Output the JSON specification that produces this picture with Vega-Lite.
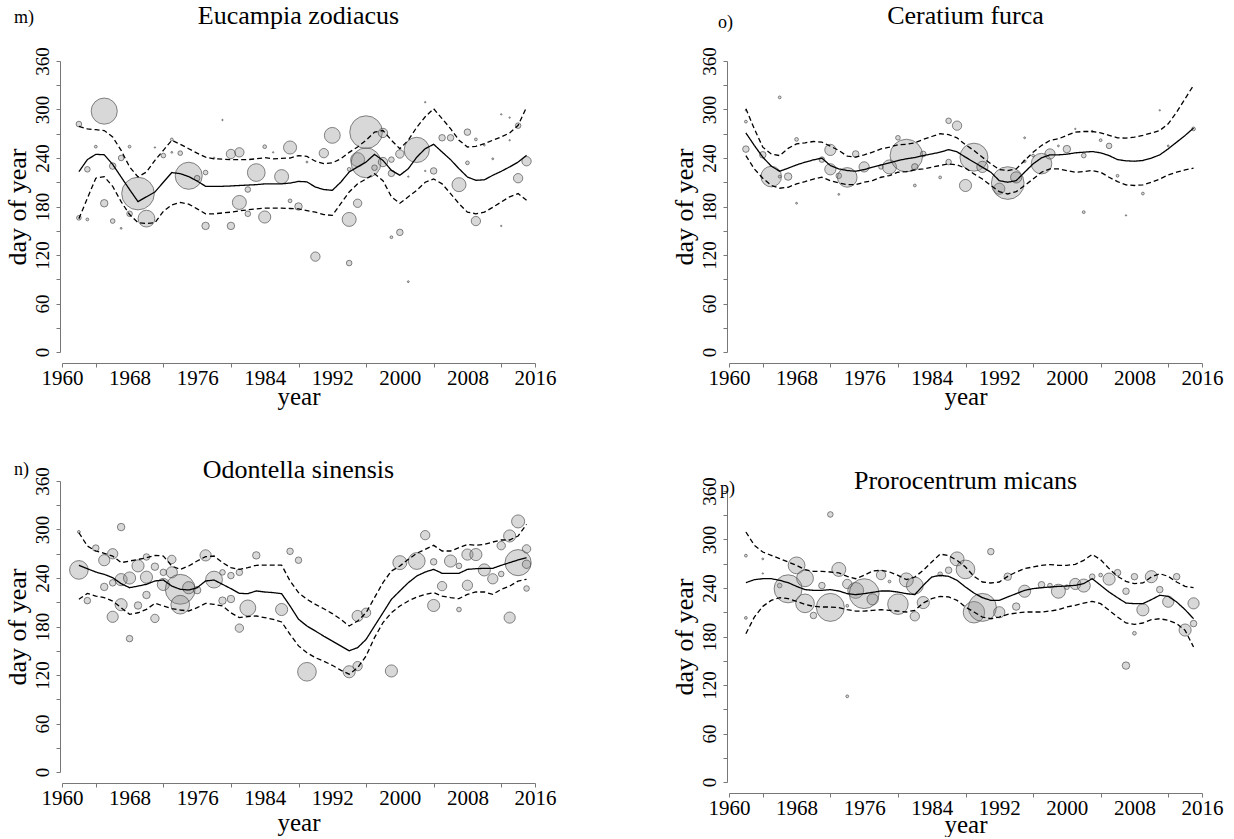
{
  "$schema": "https://vega.github.io/schema/vega-lite/v6.json",
  "background": "white",
  "padding": {"left": 4, "top": 2, "right": 5, "bottom": 0},
  "config": {
    "font": "Liberation Serif",
    "view": {"stroke": null},
    "title": {"font": "Liberation Serif", "fontSize": 26, "fontWeight": "normal", "color": "black", "anchor": "middle", "frame": "group"},
    "axis": {"grid": false, "domainColor": "#777", "tickColor": "#777", "labelColor": "black", "titleColor": "black", "labelFont": "Liberation Serif", "titleFont": "Liberation Serif", "titleFontWeight": "normal"},
    "axisX": {"offset": 11, "labelFont": "Liberation Serif", "titleFont": "Liberation Serif", "labelFontSize": 21, "titleFontSize": 25, "tickSize": 4, "labelPadding": 0, "titlePadding": -4, "labelFlush": false, "labelOverlap": false},
    "axisY": {"offset": 2, "labelFont": "Liberation Serif", "titleFont": "Liberation Serif", "labelFontSize": 19, "titleFontSize": 26, "tickSize": 4, "labelPadding": 4, "titlePadding": 3, "labelAngle": -90, "labelOverlap": false}
  },
  "datasets": {
    "pts_m": [
      {"year":1962,"day":282,"n":6},{"year":1962,"day":166,"n":5},{"year":1963,"day":226,"n":6},{"year":1963,"day":164,"n":3},{"year":1964,"day":254,"n":3},{"year":1965,"day":298,"n":28},{"year":1965,"day":184,"n":8},{"year":1966,"day":230,"n":7},{"year":1966,"day":162,"n":5},{"year":1967,"day":240,"n":6},{"year":1967,"day":153,"n":2},{"year":1968,"day":254,"n":3},{"year":1968,"day":171,"n":6},{"year":1969,"day":196,"n":35},{"year":1970,"day":165,"n":18},{"year":1971,"day":253,"n":1.5},{"year":1972,"day":243,"n":5},{"year":1973,"day":263,"n":3},{"year":1973,"day":247,"n":2},{"year":1974,"day":246,"n":5},{"year":1975,"day":218,"n":29},{"year":1976,"day":215,"n":6},{"year":1977,"day":222,"n":5},{"year":1977,"day":156,"n":8},{"year":1978,"day":240,"n":2},{"year":1979,"day":287,"n":1.5},{"year":1980,"day":245,"n":10},{"year":1980,"day":156,"n":8},{"year":1981,"day":247,"n":10},{"year":1981,"day":185,"n":15},{"year":1982,"day":201,"n":6},{"year":1982,"day":171,"n":6},{"year":1983,"day":222,"n":19},{"year":1984,"day":254,"n":4},{"year":1984,"day":167,"n":13},{"year":1985,"day":247,"n":1.5},{"year":1986,"day":217,"n":15},{"year":1987,"day":253,"n":14},{"year":1987,"day":187,"n":4},{"year":1988,"day":180,"n":8},{"year":1989,"day":235,"n":2},{"year":1990,"day":118,"n":10},{"year":1991,"day":246,"n":10},{"year":1992,"day":268,"n":17},{"year":1994,"day":110,"n":6},{"year":1994,"day":164,"n":15},{"year":1994,"day":226,"n":4},{"year":1995,"day":184,"n":9},{"year":1995,"day":238,"n":15},{"year":1996,"day":272,"n":35},{"year":1996,"day":234,"n":32},{"year":1997,"day":228,"n":6},{"year":1998,"day":271,"n":10},{"year":1998,"day":235,"n":10},{"year":1999,"day":238,"n":6},{"year":1999,"day":221,"n":7},{"year":1999,"day":142,"n":3},{"year":2000,"day":245,"n":9},{"year":2000,"day":148,"n":7},{"year":2001,"day":87,"n":2},{"year":2001,"day":217,"n":1.5},{"year":2002,"day":250,"n":27},{"year":2003,"day":309,"n":1.5},{"year":2003,"day":224,"n":1.5},{"year":2004,"day":224,"n":7},{"year":2005,"day":265,"n":7},{"year":2006,"day":265,"n":7},{"year":2007,"day":207,"n":15},{"year":2008,"day":272,"n":7},{"year":2008,"day":234,"n":4},{"year":2009,"day":263,"n":3},{"year":2009,"day":162,"n":10},{"year":2010,"day":256,"n":2},{"year":2011,"day":239,"n":2},{"year":2012,"day":294,"n":1.5},{"year":2012,"day":156,"n":1.5},{"year":2013,"day":290,"n":1.5},{"year":2013,"day":262,"n":1.5},{"year":2014,"day":280,"n":6},{"year":2014,"day":215,"n":10},{"year":2015,"day":236,"n":10}
    ],
    "fit_m": [
      {"year":1962,"fit":223,"lo":165,"hi":279},{"year":1963,"fit":238,"lo":190,"hi":276},{"year":1964,"fit":244.5,"lo":215,"hi":275},{"year":1965,"fit":244,"lo":217,"hi":274},{"year":1966,"fit":232,"lo":205,"hi":266},{"year":1967,"fit":216.5,"lo":186,"hi":249.5},{"year":1968,"fit":201,"lo":170,"hi":229},{"year":1969,"fit":186,"lo":160,"hi":216.5},{"year":1970,"fit":192,"lo":159,"hi":222.7},{"year":1971,"fit":198,"lo":160,"hi":237},{"year":1972,"fit":210,"lo":174,"hi":249.5},{"year":1973,"fit":222,"lo":182,"hi":262},{"year":1974,"fit":220.6,"lo":185,"hi":257},{"year":1975,"fit":217,"lo":183,"hi":251.5},{"year":1976,"fit":211.5,"lo":177,"hi":246},{"year":1977,"fit":205,"lo":171,"hi":241},{"year":1978,"fit":205,"lo":171,"hi":239},{"year":1979,"fit":205,"lo":172,"hi":238.5},{"year":1980,"fit":205.4,"lo":173,"hi":238},{"year":1981,"fit":206,"lo":174.5,"hi":238},{"year":1982,"fit":206.5,"lo":176,"hi":238},{"year":1983,"fit":207,"lo":177,"hi":239},{"year":1984,"fit":208,"lo":178,"hi":240.4},{"year":1985,"fit":208,"lo":178,"hi":239},{"year":1986,"fit":208,"lo":178,"hi":239.5},{"year":1987,"fit":209,"lo":177.5,"hi":240},{"year":1988,"fit":211,"lo":177,"hi":243},{"year":1989,"fit":210.5,"lo":175,"hi":242},{"year":1990,"fit":204,"lo":173,"hi":236},{"year":1991,"fit":201,"lo":170,"hi":233},{"year":1992,"fit":200,"lo":169,"hi":234},{"year":1993,"fit":210,"lo":183.5,"hi":239},{"year":1994,"fit":222.7,"lo":198,"hi":247},{"year":1995,"fit":229,"lo":208,"hi":253.6},{"year":1996,"fit":235,"lo":214,"hi":262},{"year":1997,"fit":244.5,"lo":220.6,"hi":272},{"year":1998,"fit":237,"lo":212,"hi":274},{"year":1999,"fit":224.7,"lo":192,"hi":262},{"year":2000,"fit":218.6,"lo":184,"hi":251.5},{"year":2001,"fit":226.8,"lo":192,"hi":262},{"year":2002,"fit":241,"lo":200,"hi":278},{"year":2003,"fit":251.5,"lo":210,"hi":291},{"year":2004,"fit":257,"lo":214,"hi":301},{"year":2005,"fit":247.4,"lo":208,"hi":288.7},{"year":2006,"fit":238,"lo":196,"hi":276.3},{"year":2007,"fit":226.8,"lo":183.5,"hi":262},{"year":2008,"fit":216.5,"lo":173,"hi":253.6},{"year":2009,"fit":212.4,"lo":171,"hi":254.4},{"year":2010,"fit":213,"lo":173,"hi":257.7},{"year":2011,"fit":218.6,"lo":179,"hi":262},{"year":2012,"fit":223.5,"lo":185.6,"hi":266},{"year":2013,"fit":229,"lo":192,"hi":271},{"year":2014,"fit":235,"lo":196,"hi":280.4},{"year":2015,"fit":243.3,"lo":187.6,"hi":303}
    ],
    "pts_o": [
      {"year":1962,"day":251,"n":7},{"year":1962,"day":285,"n":3},{"year":1962,"day":299,"n":1.5},{"year":1964,"day":244,"n":7},{"year":1965,"day":217,"n":22},{"year":1966,"day":315,"n":3},{"year":1966,"day":217,"n":3},{"year":1967,"day":217,"n":8},{"year":1968,"day":263,"n":4},{"year":1968,"day":184,"n":2},{"year":1971,"day":238,"n":6},{"year":1972,"day":250,"n":12},{"year":1972,"day":226,"n":12},{"year":1973,"day":218,"n":6},{"year":1973,"day":195,"n":2},{"year":1974,"day":216,"n":21},{"year":1975,"day":245,"n":7},{"year":1976,"day":229,"n":11},{"year":1978,"day":229,"n":5},{"year":1979,"day":229,"n":15},{"year":1980,"day":265,"n":5},{"year":1981,"day":243,"n":35},{"year":1982,"day":229,"n":7},{"year":1982,"day":206,"n":3},{"year":1983,"day":245,"n":6},{"year":1985,"day":216,"n":3},{"year":1986,"day":286,"n":6},{"year":1986,"day":235,"n":6},{"year":1987,"day":280,"n":10},{"year":1988,"day":206,"n":13},{"year":1989,"day":241,"n":30},{"year":1990,"day":229,"n":12},{"year":1992,"day":202,"n":12},{"year":1993,"day":209,"n":35},{"year":1994,"day":216,"n":12},{"year":1995,"day":265,"n":2},{"year":1995,"day":236,"n":3},{"year":1996,"day":243,"n":3},{"year":1997,"day":233,"n":22},{"year":1998,"day":245,"n":11},{"year":1999,"day":255,"n":2},{"year":2000,"day":251,"n":8},{"year":2001,"day":276,"n":1.5},{"year":2002,"day":243,"n":5},{"year":2002,"day":173,"n":3},{"year":2003,"day":273,"n":2},{"year":2004,"day":262,"n":3},{"year":2005,"day":255,"n":6},{"year":2006,"day":218,"n":3},{"year":2007,"day":169,"n":1.5},{"year":2009,"day":196,"n":3},{"year":2011,"day":299,"n":1.5},{"year":2012,"day":255,"n":2},{"year":2015,"day":276,"n":4}
    ],
    "fit_o": [
      {"year":1962,"fit":271,"lo":243,"hi":301},{"year":1963,"fit":255.5,"lo":226.5,"hi":276},{"year":1964,"fit":241,"lo":215,"hi":253.4},{"year":1965,"fit":230,"lo":206,"hi":245},{"year":1966,"fit":223.6,"lo":202.6,"hi":243},{"year":1967,"fit":227.4,"lo":203.8,"hi":252},{"year":1968,"fit":231.5,"lo":208,"hi":257.5},{"year":1969,"fit":234.8,"lo":210.8,"hi":258.8},{"year":1970,"fit":237.7,"lo":214,"hi":260.4},{"year":1971,"fit":239.8,"lo":216.2,"hi":259.6},{"year":1972,"fit":230.7,"lo":212,"hi":254.6},{"year":1973,"fit":226.5,"lo":209.2,"hi":249.3},{"year":1974,"fit":224.5,"lo":207,"hi":242.3},{"year":1975,"fit":223.6,"lo":207,"hi":241},{"year":1976,"fit":225.7,"lo":210,"hi":243.9},{"year":1977,"fit":228.6,"lo":212,"hi":247.2},{"year":1978,"fit":231.5,"lo":216.2,"hi":251.3},{"year":1979,"fit":234,"lo":218.3,"hi":253.4},{"year":1980,"fit":236.9,"lo":222.4,"hi":256.3},{"year":1981,"fit":239,"lo":223.2,"hi":257},{"year":1982,"fit":240.6,"lo":225.3,"hi":258.8},{"year":1983,"fit":243,"lo":226.5,"hi":263},{"year":1984,"fit":245,"lo":228.6,"hi":266.6},{"year":1985,"fit":247.2,"lo":230.7,"hi":270},{"year":1986,"fit":250.3,"lo":232.7,"hi":269},{"year":1987,"fit":247.6,"lo":231.5,"hi":265},{"year":1988,"fit":241,"lo":227.4,"hi":256.3},{"year":1989,"fit":234.8,"lo":220.3,"hi":249.3},{"year":1990,"fit":228.6,"lo":214,"hi":241},{"year":1991,"fit":222.4,"lo":206,"hi":232.7},{"year":1992,"fit":212,"lo":198.4,"hi":225.7},{"year":1993,"fit":210,"lo":195.5,"hi":224.5},{"year":1994,"fit":212,"lo":198.4,"hi":226.5},{"year":1995,"fit":222.4,"lo":206,"hi":236.9},{"year":1996,"fit":232.7,"lo":214,"hi":247.2},{"year":1997,"fit":240.2,"lo":222.4,"hi":255.5},{"year":1998,"fit":243.9,"lo":226.5,"hi":261.7},{"year":1999,"fit":243.9,"lo":226.5,"hi":263.7},{"year":2000,"fit":244.7,"lo":224.5,"hi":268},{"year":2001,"fit":246.4,"lo":222.4,"hi":272},{"year":2002,"fit":247.2,"lo":223.2,"hi":272.8},{"year":2003,"fit":248,"lo":224.5,"hi":272.8},{"year":2004,"fit":246.4,"lo":222.4,"hi":271.2},{"year":2005,"fit":243,"lo":216.2,"hi":268},{"year":2006,"fit":238,"lo":210.8,"hi":265},{"year":2007,"fit":236.5,"lo":206.7,"hi":264.6},{"year":2008,"fit":236,"lo":206,"hi":265.8},{"year":2009,"fit":236.9,"lo":206.7,"hi":268},{"year":2010,"fit":239.8,"lo":210,"hi":270.8},{"year":2011,"fit":243.9,"lo":214,"hi":274},{"year":2012,"fit":251.3,"lo":219,"hi":282.3},{"year":2013,"fit":259.6,"lo":222.4,"hi":296.8},{"year":2014,"fit":267.9,"lo":225.3,"hi":313.4},{"year":2015,"fit":277,"lo":227.4,"hi":330}
    ],
    "pts_n": [
      {"year":1962,"day":297,"n":3},{"year":1962,"day":250,"n":20},{"year":1963,"day":212,"n":7},{"year":1964,"day":277,"n":7},{"year":1965,"day":262,"n":12},{"year":1965,"day":229,"n":8},{"year":1966,"day":270,"n":11},{"year":1966,"day":234,"n":7},{"year":1966,"day":192,"n":12},{"year":1967,"day":303,"n":8},{"year":1967,"day":238,"n":13},{"year":1967,"day":207,"n":13},{"year":1968,"day":240,"n":13},{"year":1968,"day":165,"n":7},{"year":1969,"day":255,"n":13},{"year":1969,"day":206,"n":8},{"year":1970,"day":266,"n":7},{"year":1970,"day":241,"n":13},{"year":1970,"day":219,"n":8},{"year":1971,"day":254,"n":8},{"year":1971,"day":190,"n":9},{"year":1972,"day":247,"n":7},{"year":1972,"day":232,"n":13},{"year":1973,"day":263,"n":9},{"year":1973,"day":247,"n":12},{"year":1974,"day":226,"n":32},{"year":1974,"day":207,"n":20},{"year":1975,"day":228,"n":13},{"year":1976,"day":225,"n":8},{"year":1977,"day":268,"n":12},{"year":1978,"day":238,"n":18},{"year":1979,"day":247,"n":6},{"year":1979,"day":212,"n":8},{"year":1980,"day":243,"n":7},{"year":1980,"day":214,"n":8},{"year":1981,"day":247,"n":7},{"year":1981,"day":178,"n":9},{"year":1982,"day":203,"n":17},{"year":1983,"day":268,"n":8},{"year":1986,"day":201,"n":13},{"year":1987,"day":273,"n":7},{"year":1988,"day":262,"n":7},{"year":1989,"day":124,"n":20},{"year":1994,"day":124,"n":13},{"year":1995,"day":131,"n":10},{"year":1995,"day":193,"n":12},{"year":1996,"day":197,"n":10},{"year":1999,"day":125,"n":13},{"year":2000,"day":259,"n":15},{"year":2002,"day":261,"n":18},{"year":2003,"day":293,"n":10},{"year":2004,"day":260,"n":7},{"year":2004,"day":206,"n":13},{"year":2005,"day":230,"n":10},{"year":2006,"day":261,"n":13},{"year":2007,"day":255,"n":6},{"year":2007,"day":201,"n":5},{"year":2008,"day":269,"n":12},{"year":2008,"day":231,"n":11},{"year":2009,"day":269,"n":13},{"year":2010,"day":250,"n":13},{"year":2011,"day":239,"n":11},{"year":2012,"day":280,"n":9},{"year":2012,"day":245,"n":6},{"year":2013,"day":292,"n":13},{"year":2013,"day":191,"n":12},{"year":2014,"day":310,"n":14},{"year":2014,"day":259,"n":28},{"year":2015,"day":276,"n":9},{"year":2015,"day":257,"n":9},{"year":2015,"day":227,"n":6}
    ],
    "fit_n": [
      {"year":1962,"fit":255.7,"lo":213.6,"hi":296},{"year":1963,"fit":251.5,"lo":221,"hi":279.6},{"year":1964,"fit":247.4,"lo":217.7,"hi":273.4},{"year":1965,"fit":244.5,"lo":215.7,"hi":270.5},{"year":1966,"fit":240.4,"lo":211.5,"hi":267.2},{"year":1967,"fit":233,"lo":203.3,"hi":259},{"year":1968,"fit":228,"lo":195,"hi":261},{"year":1969,"fit":230,"lo":197,"hi":263},{"year":1970,"fit":232.2,"lo":201.2,"hi":265},{"year":1971,"fit":236.3,"lo":208.7,"hi":268},{"year":1972,"fit":237.5,"lo":205.4,"hi":267.2},{"year":1973,"fit":230,"lo":202,"hi":254.8},{"year":1974,"fit":226,"lo":200.4,"hi":250.7},{"year":1975,"fit":225.2,"lo":199.2,"hi":254.8},{"year":1976,"fit":228,"lo":203.3,"hi":261},{"year":1977,"fit":236.3,"lo":208.7,"hi":266.4},{"year":1978,"fit":237.5,"lo":207.4,"hi":267.2},{"year":1979,"fit":232.2,"lo":205.4,"hi":259},{"year":1980,"fit":226.8,"lo":197,"hi":252.8},{"year":1981,"fit":221,"lo":191,"hi":250.7},{"year":1982,"fit":220.6,"lo":192.2,"hi":252.8},{"year":1983,"fit":224,"lo":193,"hi":255.7},{"year":1984,"fit":222.7,"lo":191,"hi":256},{"year":1985,"fit":221.9,"lo":188.9,"hi":256},{"year":1986,"fit":220.6,"lo":185.6,"hi":256},{"year":1987,"fit":205.4,"lo":170.3,"hi":236.3},{"year":1988,"fit":189,"lo":156,"hi":221.9},{"year":1989,"fit":180.6,"lo":147.6,"hi":213.6},{"year":1990,"fit":174.4,"lo":141.4,"hi":207.4},{"year":1991,"fit":168,"lo":137,"hi":202},{"year":1992,"fit":162,"lo":132,"hi":196},{"year":1993,"fit":156,"lo":126,"hi":189},{"year":1994,"fit":150,"lo":121,"hi":180.6},{"year":1995,"fit":153.8,"lo":129,"hi":186.8},{"year":1996,"fit":164,"lo":143.5,"hi":197},{"year":1997,"fit":180.6,"lo":166.2,"hi":215.7},{"year":1998,"fit":197,"lo":184.7,"hi":234.2},{"year":1999,"fit":213.6,"lo":197,"hi":248.7},{"year":2000,"fit":224,"lo":205.4,"hi":254.8},{"year":2001,"fit":234.2,"lo":211.5,"hi":263.1},{"year":2002,"fit":242.5,"lo":216.5,"hi":270.5},{"year":2003,"fit":247.4,"lo":219.8,"hi":275.5},{"year":2004,"fit":250.7,"lo":221.9,"hi":280.4},{"year":2005,"fit":245.8,"lo":217.7,"hi":273.4},{"year":2006,"fit":245.8,"lo":215.7,"hi":273.4},{"year":2007,"fit":245.8,"lo":214.4,"hi":277.5},{"year":2008,"fit":250.7,"lo":219.8,"hi":281.6},{"year":2009,"fit":251.5,"lo":222.7,"hi":280.4},{"year":2010,"fit":252,"lo":222.7,"hi":281.6},{"year":2011,"fit":252,"lo":219.8,"hi":284.5},{"year":2012,"fit":255.7,"lo":226,"hi":287},{"year":2013,"fit":259,"lo":230,"hi":287},{"year":2014,"fit":262.3,"lo":236.3,"hi":292},{"year":2015,"fit":265.2,"lo":238.4,"hi":306.4}
    ],
    "pts_p": [
      {"year":1962,"day":280,"n":3},{"year":1962,"day":203,"n":3},{"year":1964,"day":276,"n":2},{"year":1964,"day":258,"n":1.5},{"year":1966,"day":243,"n":5},{"year":1967,"day":239,"n":30},{"year":1968,"day":268,"n":18},{"year":1969,"day":252,"n":18},{"year":1969,"day":221,"n":20},{"year":1970,"day":206,"n":7},{"year":1971,"day":243,"n":7},{"year":1972,"day":331,"n":6},{"year":1972,"day":216,"n":30},{"year":1973,"day":263,"n":15},{"year":1974,"day":245,"n":10},{"year":1974,"day":106,"n":3},{"year":1974,"day":218,"n":3},{"year":1975,"day":237,"n":17},{"year":1976,"day":233,"n":32},{"year":1977,"day":226,"n":12},{"year":1978,"day":256,"n":10},{"year":1979,"day":248,"n":3},{"year":1980,"day":220,"n":22},{"year":1981,"day":250,"n":15},{"year":1982,"day":205,"n":10},{"year":1982,"day":243,"n":18},{"year":1983,"day":222,"n":13},{"year":1985,"day":257,"n":5},{"year":1986,"day":262,"n":7},{"year":1987,"day":276,"n":15},{"year":1988,"day":263,"n":20},{"year":1989,"day":210,"n":23},{"year":1990,"day":216,"n":30},{"year":1991,"day":285,"n":7},{"year":1992,"day":210,"n":12},{"year":1993,"day":254,"n":8},{"year":1994,"day":217,"n":8},{"year":1995,"day":236,"n":13},{"year":1997,"day":244,"n":7},{"year":1998,"day":243,"n":5},{"year":1999,"day":236,"n":15},{"year":2000,"day":241,"n":5},{"year":2001,"day":245,"n":12},{"year":2002,"day":243,"n":14},{"year":2003,"day":254,"n":6},{"year":2004,"day":256,"n":4},{"year":2005,"day":251,"n":13},{"year":2006,"day":259,"n":7},{"year":2007,"day":236,"n":7},{"year":2007,"day":144,"n":8},{"year":2008,"day":184,"n":4},{"year":2008,"day":254,"n":7},{"year":2009,"day":213,"n":13},{"year":2010,"day":254,"n":13},{"year":2011,"day":238,"n":7},{"year":2012,"day":223,"n":12},{"year":2013,"day":254,"n":7},{"year":2014,"day":188,"n":13},{"year":2015,"day":221,"n":12},{"year":2015,"day":196,"n":7}
    ],
    "fit_p": [
      {"year":1962,"fit":246.6,"lo":183.5,"hi":309.3},{"year":1963,"fit":250.3,"lo":204,"hi":292.8},{"year":1964,"fit":251.5,"lo":217.3,"hi":284.5},{"year":1965,"fit":251.5,"lo":224.7,"hi":280.4},{"year":1966,"fit":249.5,"lo":228,"hi":276.3},{"year":1967,"fit":246.6,"lo":226.8,"hi":272.2},{"year":1968,"fit":242,"lo":223.5,"hi":268},{"year":1969,"fit":238,"lo":219.8,"hi":262.7},{"year":1970,"fit":237.1,"lo":217.3,"hi":260.6},{"year":1971,"fit":237.1,"lo":216.5,"hi":260.6},{"year":1972,"fit":238,"lo":216.5,"hi":259.8},{"year":1973,"fit":236.3,"lo":215.7,"hi":258.6},{"year":1974,"fit":233,"lo":213.2,"hi":254.4},{"year":1975,"fit":231.8,"lo":211.5,"hi":251.5},{"year":1976,"fit":233,"lo":211.5,"hi":255.7},{"year":1977,"fit":234.6,"lo":212.4,"hi":261},{"year":1978,"fit":236.3,"lo":213.2,"hi":261.9},{"year":1979,"fit":236.3,"lo":212.4,"hi":259.8},{"year":1980,"fit":235,"lo":211.5,"hi":255.7},{"year":1981,"fit":233,"lo":210.3,"hi":250.3},{"year":1982,"fit":231.8,"lo":212.4,"hi":253.6},{"year":1983,"fit":243.3,"lo":221.4,"hi":261.9},{"year":1984,"fit":253.6,"lo":226.8,"hi":272.2},{"year":1985,"fit":255.7,"lo":229.7,"hi":282},{"year":1986,"fit":254.4,"lo":229,"hi":280},{"year":1987,"fit":249.5,"lo":224.7,"hi":274.2},{"year":1988,"fit":241.2,"lo":216.5,"hi":266},{"year":1989,"fit":233.8,"lo":210.3,"hi":254.4},{"year":1990,"fit":228,"lo":204.1,"hi":247.4},{"year":1991,"fit":224.7,"lo":202,"hi":246.2},{"year":1992,"fit":224.7,"lo":204.1,"hi":247.4},{"year":1993,"fit":228.9,"lo":207.4,"hi":254.4},{"year":1994,"fit":233,"lo":209,"hi":259.8},{"year":1995,"fit":237.1,"lo":210.3,"hi":264},{"year":1996,"fit":239.2,"lo":210.3,"hi":266},{"year":1997,"fit":240.4,"lo":210.3,"hi":268},{"year":1998,"fit":241.2,"lo":211.5,"hi":269},{"year":1999,"fit":242,"lo":213.2,"hi":268},{"year":2000,"fit":242.5,"lo":216.5,"hi":268},{"year":2001,"fit":243.3,"lo":218.6,"hi":269.3},{"year":2002,"fit":245.4,"lo":221.4,"hi":274.2},{"year":2003,"fit":251.5,"lo":223.5,"hi":281.6},{"year":2004,"fit":243.3,"lo":220.6,"hi":275},{"year":2005,"fit":235,"lo":212.4,"hi":264},{"year":2006,"fit":228,"lo":204.1,"hi":254.4},{"year":2007,"fit":221.4,"lo":196.7,"hi":248.2},{"year":2008,"fit":220.6,"lo":195,"hi":245.4},{"year":2009,"fit":220.6,"lo":196.7,"hi":246.2},{"year":2010,"fit":225.6,"lo":200.8,"hi":253.6},{"year":2011,"fit":231,"lo":202,"hi":257.7},{"year":2012,"fit":229.7,"lo":200,"hi":254.4},{"year":2013,"fit":222.7,"lo":195.9,"hi":247.4},{"year":2014,"fit":213.2,"lo":187.6,"hi":242},{"year":2015,"fit":202,"lo":167,"hi":240.4}
    ]
  },
  "spacing": 115,
  "hconcat": [
    {
      "spacing": 47,
      "vconcat": [
        {
          "title": {"text": "m)", "anchor": "start", "frame": "bounds", "offset": -24, "fontSize": 18, "dx": 10},
          "vconcat": [{
            "title": {"text": "Eucampia zodiacus", "offset": 18},
            "width": 473, "height": 291,
            "encoding": {
              "x": {"field": "year", "type": "quantitative", "scale": {"domain": [1960, 2016], "nice": false, "zero": false},
                    "axis": {"title": "year", "values": [1960,1964,1968,1972,1976,1980,1984,1988,1992,1996,2000,2004,2008,2012,2016], "labelExpr": "(datum.value - 1960) % 8 == 0 ? '' + datum.value : ''", "tickOpacity": {"condition": {"test": "datum.value == 1960 || datum.value == 2016 || (datum.value - 1960) % 8 == 4", "value": 1}, "value": 0}}},
              "y": {"field": "day", "type": "quantitative", "scale": {"domain": [0, 360], "nice": false},
                    "axis": {"title": "day of year", "values": [0,30,60,90,120,150,180,210,240,270,300,330,360], "labelExpr": "datum.value % 60 == 0 ? '' + datum.value : ''"}}
            },
            "layer": [
              {"data": {"name": "pts_m"}, "mark": {"type": "circle", "fill": "#888", "fillOpacity": 0.33, "stroke": "#444", "strokeWidth": 0.8, "strokeOpacity": 0.8},
               "encoding": {"size": {"field": "n", "type": "quantitative", "scale": {"type": "pow", "exponent": 2, "domain": [0, 36], "range": [0, 1130]}, "legend": null}}},
              {"data": {"name": "fit_m"}, "transform": [{"fold": ["fit", "lo", "hi"], "as": ["band", "day"]}],
               "mark": {"type": "line", "color": "black", "strokeWidth": 1.3},
               "encoding": {"detail": {"field": "band"}, "strokeDash": {"field": "band", "type": "nominal", "scale": {"domain": ["fit", "lo", "hi"], "range": [[1, 0], [5, 3], [5, 3]]}, "legend": null}}}
            ]
          }]
        },
        {
          "title": {"text": "n)", "anchor": "start", "frame": "bounds", "offset": -22, "fontSize": 18, "dx": 10},
          "vconcat": [{
            "title": {"text": "Odontella sinensis", "offset": -16},
            "width": 473, "height": 291,
            "encoding": {
              "x": {"field": "year", "type": "quantitative", "scale": {"domain": [1960, 2016], "nice": false, "zero": false},
                    "axis": {"title": "year", "titlePadding": 2, "values": [1960,1964,1968,1972,1976,1980,1984,1988,1992,1996,2000,2004,2008,2012,2016], "labelExpr": "(datum.value - 1960) % 8 == 0 ? '' + datum.value : ''", "tickOpacity": {"condition": {"test": "datum.value == 1960 || datum.value == 2016 || (datum.value - 1960) % 8 == 4", "value": 1}, "value": 0}}},
              "y": {"field": "day", "type": "quantitative", "scale": {"domain": [0, 360], "nice": false},
                    "axis": {"title": "day of year", "values": [0,30,60,90,120,150,180,210,240,270,300,330,360], "labelExpr": "datum.value % 60 == 0 ? '' + datum.value : ''"}}
            },
            "layer": [
              {"data": {"name": "pts_n"}, "mark": {"type": "circle", "fill": "#888", "fillOpacity": 0.33, "stroke": "#444", "strokeWidth": 0.8, "strokeOpacity": 0.8},
               "encoding": {"size": {"field": "n", "type": "quantitative", "scale": {"type": "pow", "exponent": 2, "domain": [0, 36], "range": [0, 1130]}, "legend": null}}},
              {"data": {"name": "fit_n"}, "transform": [{"fold": ["fit", "lo", "hi"], "as": ["band", "day"]}],
               "mark": {"type": "line", "color": "black", "strokeWidth": 1.3},
               "encoding": {"detail": {"field": "band"}, "strokeDash": {"field": "band", "type": "nominal", "scale": {"domain": ["fit", "lo", "hi"], "range": [[1, 0], [5, 3], [5, 3]]}, "legend": null}}}
            ]
          }]
        }
      ]
    },
    {
      "spacing": 58,
      "vconcat": [
        {
          "title": {"text": "o)", "anchor": "start", "frame": "bounds", "offset": -29, "fontSize": 18, "dx": 47},
          "vconcat": [{
            "title": {"text": "Ceratium furca", "offset": 18},
            "width": 473, "height": 291,
            "encoding": {
              "x": {"field": "year", "type": "quantitative", "scale": {"domain": [1960, 2016], "nice": false, "zero": false},
                    "axis": {"title": "year", "values": [1960,1964,1968,1972,1976,1980,1984,1988,1992,1996,2000,2004,2008,2012,2016], "labelExpr": "(datum.value - 1960) % 8 == 0 ? '' + datum.value : ''", "tickOpacity": {"condition": {"test": "datum.value == 1960 || datum.value == 2016 || (datum.value - 1960) % 8 == 4", "value": 1}, "value": 0}}},
              "y": {"field": "day", "type": "quantitative", "scale": {"domain": [0, 360], "nice": false},
                    "axis": {"title": "day of year", "values": [0,30,60,90,120,150,180,210,240,270,300,330,360], "labelExpr": "datum.value % 60 == 0 ? '' + datum.value : ''"}}
            },
            "layer": [
              {"data": {"name": "pts_o"}, "mark": {"type": "circle", "fill": "#888", "fillOpacity": 0.33, "stroke": "#444", "strokeWidth": 0.8, "strokeOpacity": 0.8},
               "encoding": {"size": {"field": "n", "type": "quantitative", "scale": {"type": "pow", "exponent": 2, "domain": [0, 36], "range": [0, 1130]}, "legend": null}}},
              {"data": {"name": "fit_o"}, "transform": [{"fold": ["fit", "lo", "hi"], "as": ["band", "day"]}],
               "mark": {"type": "line", "color": "black", "strokeWidth": 1.3},
               "encoding": {"detail": {"field": "band"}, "strokeDash": {"field": "band", "type": "nominal", "scale": {"domain": ["fit", "lo", "hi"], "range": [[1, 0], [5, 3], [5, 3]]}, "legend": null}}}
            ]
          }]
        },
        {
          "title": {"text": "p)", "anchor": "start", "frame": "bounds", "offset": -30, "fontSize": 18, "dx": 49},
          "vconcat": [{
            "title": {"text": "Prorocentrum micans", "offset": -17},
            "width": 473, "height": 291,
            "encoding": {
              "x": {"field": "year", "type": "quantitative", "scale": {"domain": [1960, 2016], "nice": false, "zero": false},
                    "axis": {"title": "year", "titlePadding": -6, "values": [1960,1964,1968,1972,1976,1980,1984,1988,1992,1996,2000,2004,2008,2012,2016], "labelExpr": "(datum.value - 1960) % 8 == 0 ? '' + datum.value : ''", "tickOpacity": {"condition": {"test": "datum.value == 1960 || datum.value == 2016 || (datum.value - 1960) % 8 == 4", "value": 1}, "value": 0}}},
              "y": {"field": "day", "type": "quantitative", "scale": {"domain": [0, 360], "nice": false},
                    "axis": {"title": "day of year", "values": [0,30,60,90,120,150,180,210,240,270,300,330,360], "labelExpr": "datum.value % 60 == 0 ? '' + datum.value : ''"}}
            },
            "layer": [
              {"data": {"name": "pts_p"}, "mark": {"type": "circle", "fill": "#888", "fillOpacity": 0.33, "stroke": "#444", "strokeWidth": 0.8, "strokeOpacity": 0.8},
               "encoding": {"size": {"field": "n", "type": "quantitative", "scale": {"type": "pow", "exponent": 2, "domain": [0, 36], "range": [0, 1130]}, "legend": null}}},
              {"data": {"name": "fit_p"}, "transform": [{"fold": ["fit", "lo", "hi"], "as": ["band", "day"]}],
               "mark": {"type": "line", "color": "black", "strokeWidth": 1.3},
               "encoding": {"detail": {"field": "band"}, "strokeDash": {"field": "band", "type": "nominal", "scale": {"domain": ["fit", "lo", "hi"], "range": [[1, 0], [5, 3], [5, 3]]}, "legend": null}}}
            ]
          }]
        }
      ]
    }
  ]
}
